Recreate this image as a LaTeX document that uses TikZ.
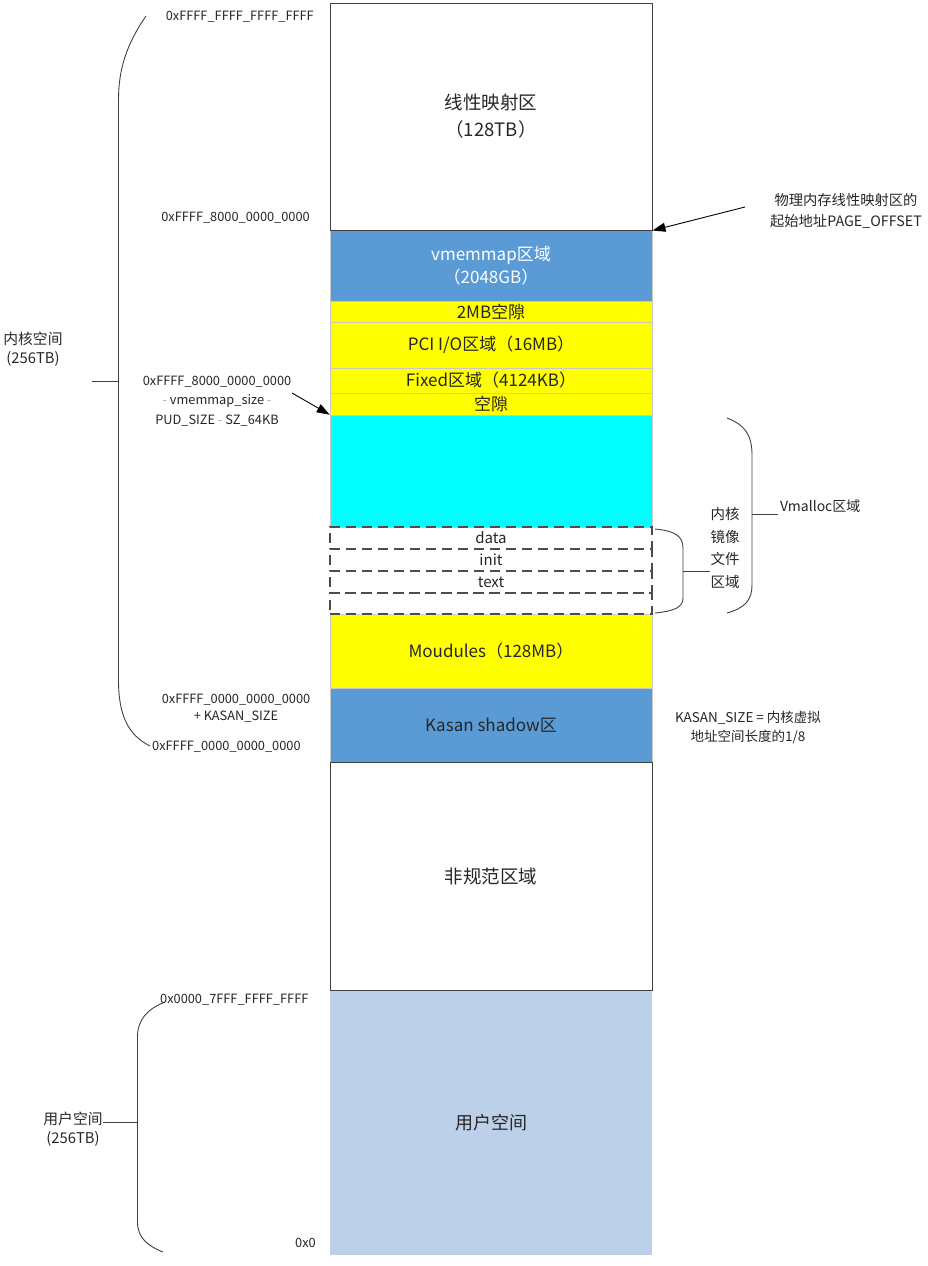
\documentclass[tikz,border=0pt]{standalone}
\usepackage{fontspec}
\setmainfont{Noto Sans CJK SC}
\usetikzlibrary{arrows.meta}
\definecolor{vblue}{HTML}{5B9BD5}
\definecolor{ublue}{HTML}{BDD0E9}
\definecolor{ylw}{HTML}{FFFF00}
\definecolor{cyn}{HTML}{00FFFF}
\definecolor{edge}{HTML}{404040}
\definecolor{faint}{HTML}{C8C8C8}
\definecolor{txt}{HTML}{262626}
\newcommand{\gm}{{\color{black!35}-}}
\begin{document}
\begin{tikzpicture}[x=1pt,y=-1pt,
  band/.style={rectangle, minimum width=322pt, inner sep=0pt, align=center, text=txt,
    font=\fontsize{17}{23}\selectfont},
  colband/.style={band, draw=faint, line width=0.6pt},
  darkband/.style={band, draw=edge, line width=1pt},
  dbox/.style={band, draw=black!70, line width=1.1pt, dash pattern=on 10pt off 6pt, minimum height=22pt,
    font=\fontsize{15}{20}\selectfont},
  lbl/.style={font=\fontsize{12.8}{17}\selectfont, inner sep=0pt, align=center, text=txt},
  brace/.style={draw=black!75, line width=0.9pt},
  arr/.style={-{Triangle[length=13pt,width=9pt]}, line width=0.9pt}]
\useasboundingbox (0,0) rectangle (927,1266);
% colored bands
\node[colband, fill=vblue, minimum height=71pt, text=white] (vm) at (491,265.5) {vmemmap区域\\（2048GB）};
\node[colband, fill=ylw, minimum height=21pt] (g2) at (491,311.5) {2MB空隙};
\node[colband, fill=ylw, minimum height=46pt] (pci) at (491,345) {PCI I/O区域（16MB）};
\node[colband, fill=ylw, minimum height=25pt] (fix) at (491,380.5) {Fixed区域（4124KB）};
\node[colband, fill=ylw, minimum height=22pt] (gap) at (491,404) {空隙};
\node[colband, fill=cyn, minimum height=112pt] (vmal) at (491,471) {};
\node[colband, fill=ylw, minimum height=74pt] (mod) at (491,651) {Moudules（128MB）};
\node[colband, fill=vblue, minimum height=74pt] (kasan) at (491,725) {Kasan shadow区};
\node[band, fill=ublue, minimum height=265pt, font=\fontsize{18}{23}\selectfont] (user) at (491,1122.5) {用户空间};
% dashed kernel image boxes
\node[dbox] (data) at (491,538) {data};
\node[dbox] (init) at (491,560) {init};
\node[dbox] (text) at (491,582) {text};
\node[dbox, minimum height=21pt] (blank) at (491,603.5) {};
% dark bordered boxes
\node[darkband, minimum height=227pt, font=\fontsize{18.5}{27}\selectfont] (lin) at (491,116.5) {线性映射区\\（128TB）};
\node[darkband, minimum height=228pt, font=\fontsize{18.5}{23}\selectfont] (nc) at (491,876) {非规范区域};
% address labels
\node[lbl, anchor=east] (a1) at (314,17) {0xFFFF\_FFFF\_FFFF\_FFFF};
\node[lbl, anchor=east] (a2) at (310,218) {0xFFFF\_8000\_0000\_0000};
\node[lbl, font=\fontsize{12.8}{19.5}\selectfont] (a3) at (217,401) {0xFFFF\_8000\_0000\_0000\\\gm{} vmemmap\_size \gm\\PUD\_SIZE \gm{} SZ\_64KB};
\node[lbl, font=\fontsize{12.8}{16.5}\selectfont] (a4) at (236,708) {0xFFFF\_0000\_0000\_0000\\+ KASAN\_SIZE};
\node[lbl, anchor=west] (a5) at (152,747) {0xFFFF\_0000\_0000\_0000};
\node[lbl, anchor=west] (a6) at (160,1000) {0x0000\_7FFF\_FFFF\_FFFF};
\node[lbl, anchor=east] (a7) at (316,1243) {0x0};
\node[lbl, font=\fontsize{13.5}{19}\selectfont] (ks) at (748,727.5) {KASAN\_SIZE = 内核虚拟\\地址空间长度的1/8};
\node[lbl, font=\fontsize{14.3}{21}\selectfont] (po) at (846,210.5) {物理内存线性映射区的\\起始地址PAGE\_OFFSET};
% side labels
\node[lbl, font=\fontsize{14.8}{19}\selectfont] (kern) at (33,349) {内核空间\\(256TB)};
\node[lbl, font=\fontsize{14.8}{19}\selectfont] (usr) at (73,1129) {用户空间\\(256TB)};
\node[lbl, font=\fontsize{14.5}{22.5}\selectfont] (img) at (725,548) {内核\\镜像\\文件\\区域};
\node[lbl, anchor=west, font=\fontsize{14}{17}\selectfont] (vml) at (780,506) {Vmalloc区域};
% braces
\draw[brace] (146,16) .. controls (126,45) and (118.5,70) .. (118.5,100) -- (118.5,680) .. controls (118.5,715) and (128,735) .. (150,746);
\coordinate (kt) at (118.5,381);
\draw[brace] (kt) -- (92,381);
\draw[brace] (165,1002) .. controls (147,1009) and (137.5,1020) .. (137.5,1037) -- (137.5,1222) .. controls (137.5,1238) and (148,1246) .. (163,1252);
\coordinate (ut) at (137.5,1122);
\draw[brace] (ut) -- (usr.east |- ut);
\draw[brace] (655,529) .. controls (675,531) and (683,536) .. (683,548) -- (683,598) .. controls (683,607) and (675,611) .. (655,613);
\coordinate (it) at (683,571);
\draw[brace] (it) -- (img.west |- it);
\draw[brace] (727,418) .. controls (745,425) and (752,435) .. (752,455) -- (752,585) .. controls (752,600) and (745,608) .. (727,613);
\coordinate (ot) at (752,514);
\draw[brace] (ot) -- (778,514);
% arrows
\coordinate (p1) at (745,207);
\draw[arr] (p1) -- (lin.south east);
\coordinate (p2) at (292,393);
\draw[arr] (p2) -- (vmal.north west);
\end{tikzpicture}
\end{document}
